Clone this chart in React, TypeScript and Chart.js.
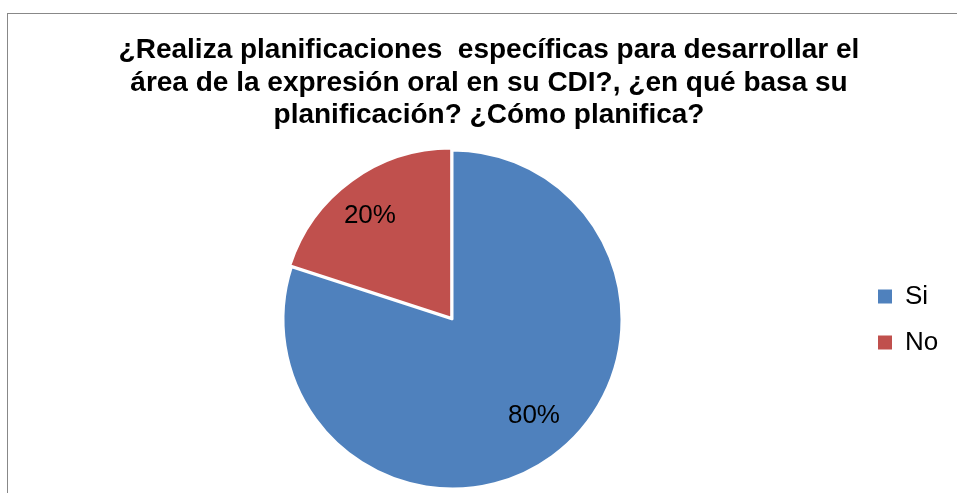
import React, { useEffect, useRef } from "react";
import { Chart, registerables } from "chart.js";

Chart.register(...registerables);

const categories: string[] = ["Si", "No"];
const percentages: number[] = [80, 20];
const titleLines: string[] = [
  "¿Realiza planificaciones  específicas para desarrollar el",
  "área de la expresión oral en su CDI?, ¿en qué basa su",
  "planificación? ¿Cómo planifica?",
];
const sliceColors: string[] = ["#4F81BD", "#C0504D"];

const FONT = "'Liberation Sans', Arial, Helvetica, sans-serif";

const sliceLabelPlugin = {
  id: "sliceLabels",
  afterDatasetsDraw(chart: any, _args: any, opts: any) {
    const ctx = chart.ctx;
    const meta = chart.getDatasetMeta(0);
    const values: number[] = chart.data.datasets[0].data;
    const total = values.reduce((a, b) => a + b, 0);
    ctx.save();
    ctx.font = `${opts.size}px ${FONT}`;
    ctx.fillStyle = "#000";
    ctx.textAlign = "center";
    ctx.textBaseline = "alphabetic";
    meta.data.forEach((arc: any, i: number) => {
      const { x, y, startAngle, endAngle, outerRadius } = arc.getProps(
        ["x", "y", "startAngle", "endAngle", "outerRadius"],
        true
      );
      const off = (arc.options.offset || 0) / 4;
      const mid = (startAngle + endAngle) / 2;
      const p = opts.placement[i] || { r: 0.75, a: 0 };
      const a = mid + (p.a * Math.PI) / 180;
      const r = (outerRadius + off) * p.r;
      const cx = x + Math.cos(mid) * off;
      const cy = y + Math.sin(mid) * off;
      const txt = Math.round((values[i] / total) * 100) + "%";
      ctx.fillText(txt, cx + Math.cos(a) * r, cy + Math.sin(a) * r + opts.size * 0.358);
    });
    ctx.restore();
  },
};

// let the legend draw its labels past the box width it reserved in the layout
const legendClipPlugin = {
  id: "legendClip",
  afterLayout(chart: any) {
    const lg = chart.legend;
    if (lg) {
      lg.right = chart.width;
      lg.width = lg.right - lg.left;
    }
  },
};

export default function App() {
  const canvasRef = useRef<HTMLCanvasElement | null>(null);

  useEffect(() => {
    if (!canvasRef.current) return;
    const chart = new Chart(canvasRef.current, {
      type: "doughnut",
      data: {
        labels: categories,
        datasets: [
          {
            data: percentages,
            backgroundColor: sliceColors,
            borderColor: "#ffffff",
            borderWidth: 2,
            offset: [0, 9],
            radius: 169,
            cutout: 0,
          } as any,
        ],
      },
      plugins: [sliceLabelPlugin as any, legendClipPlugin as any],
      options: {
        responsive: false,
        animation: false,
        events: [],
        layout: { padding: { left: 47, right: 26, top: 0, bottom: 0 } },
        plugins: {
          title: {
            display: true,
            text: titleLines,
            color: "#000",
            font: { family: FONT, size: 28, weight: "bold", lineHeight: "32.5px" },
            padding: { top: 34.25, bottom: 14.25 },
          },
          legend: {
            position: "right",
            fullSize: false,
            maxWidth: 73,
            labels: {
              color: "#000",
              font: { family: FONT, size: 26 },
              boxWidth: 14,
              boxHeight: 14,
              padding: 20,
              generateLabels: (c: any) =>
                (Chart as any).overrides.doughnut.plugins.legend.labels
                  .generateLabels(c)
                  .map((l: any) => ({ ...l, lineWidth: 0 })),
            },
          },
          tooltip: { enabled: false },
          sliceLabels: {
            size: 26,
            placement: [
              { r: 0.736, a: -4.9 },
              { r: 0.769, a: -2.1 },
            ],
          },
        } as any,
      },
    });
    return () => chart.destroy();
  }, []);

  return (
    <div
      style={{
        position: "fixed",
        left: 0,
        top: 0,
        width: 957,
        height: 493,
        overflow: "hidden",
        background: "#fff",
      }}
    >
      <div
        style={{
          position: "absolute",
          left: 7,
          top: 13,
          width: 1100,
          height: 800,
          border: "1px solid #888888",
          boxSizing: "border-box",
        }}
      />
      <canvas
        ref={canvasRef}
        width={957}
        height={493}
        style={{ position: "absolute", left: 0, top: 0, width: 957, height: 493 }}
      />
    </div>
  );
}
